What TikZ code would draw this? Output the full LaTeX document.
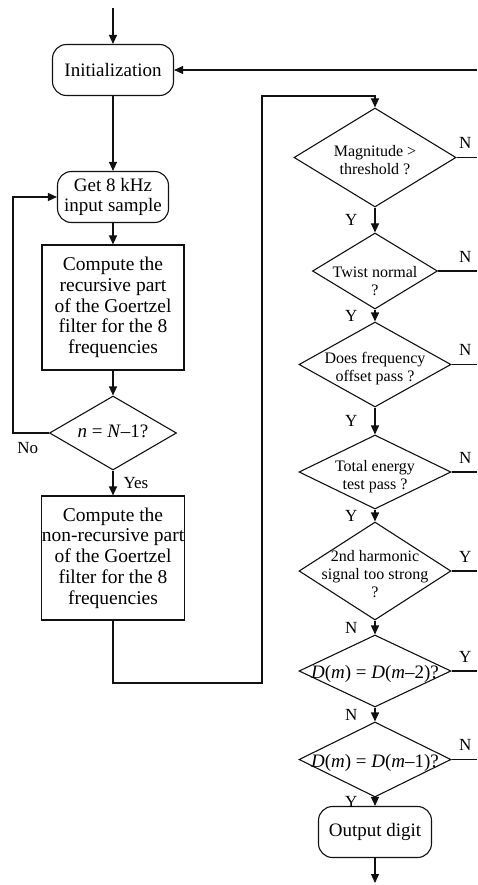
\documentclass[tikz,border=0pt]{standalone}
\usepackage{fontspec}
\setmainfont{Liberation Serif}
\usetikzlibrary{arrows.meta,positioning,shapes.geometric}
\definecolor{ink}{HTML}{111111}
% text of a decision, kept from growing the diamond
\newcommand{\dtext}[2][-9pt]{\makebox[0pt]{\raisebox{#1}[0pt][0pt]{\begin{tabular}{@{}c@{}}#2\end{tabular}}}}
\tikzset{
  term/.style={draw=ink,line width=1.1pt,rounded corners=14pt,inner sep=0pt,minimum height=51pt,align=center,font=\fontsize{19}{20.7}\selectfont},
  proc/.style={draw=ink,line width=1.1pt,inner sep=0pt,minimum width=142pt,minimum height=125pt,align=center,font=\fontsize{19.5}{20.7}\selectfont},
  decide/.style={diamond,draw=ink,line width=1.1pt,inner sep=0pt,font=\fontsize{16}{18}\selectfont},
  wire/.style={draw=ink,line width=1.1pt},
  flow/.style={wire,-{Triangle[length=9pt,width=8pt]}},
  lab/.style={inner sep=0pt,font=\fontsize{17}{17}\selectfont}
}
\begin{document}
\begin{tikzpicture}[x=1pt,y=-1pt]
  \useasboundingbox (0,0) rectangle (477,885);
  % left column
  \node[term,minimum width=121pt] (init) at (113,70) {Initialization};
  \node[term,minimum width=111pt] (get) at (113,197) {Get 8 kHz\\input sample};
  \node[proc] (rec) at (113,307.5) {Compute the\\recursive part\\of the Goertzel\\filter for the 8\\frequencies};
  \node[decide,minimum width=127pt,minimum height=74pt,font=\fontsize{19}{20}\selectfont] (last) at (113,433) {\dtext[-5pt]{\textit{n} = \textit{N}–1?}};
  \node[proc,minimum height=124pt] (nonrec) at (113,558) {Compute the\\non-recursive part\\of the Goertzel\\filter for the 8\\frequencies};
  % right column
  \node[decide,minimum width=162pt,minimum height=99pt] (mag) at (375,157.5) {\dtext{Magnitude >\\threshold ?}};
  \node[decide,minimum width=125pt,minimum height=76pt] (twist) at (375,271) {\dtext[-16pt]{Twist normal\\?}};
  \node[decide,minimum width=152pt,minimum height=85pt] (offs) at (375,364.5) {\dtext{Does frequency\\offset pass ?}};
  \node[decide,minimum width=152pt,minimum height=74pt] (energy) at (375,472) {\dtext{Total energy\\test pass ?}};
  \node[decide,minimum width=152pt,minimum height=98pt] (harm) at (375,571) {\dtext{2nd harmonic\\signal too strong\\?}};
  \node[decide,minimum width=152pt,minimum height=72pt,font=\fontsize{19}{20}\selectfont] (rep2) at (375,671) {\dtext[-8pt]{\textit{D}(\textit{m}) = \textit{D}(\textit{m}–2)?}};
  \node[decide,minimum width=152pt,minimum height=75pt,font=\fontsize{19}{20}\selectfont] (rep1) at (375,759.5) {\dtext[-8pt]{\textit{D}(\textit{m}) = \textit{D}(\textit{m}–1)?}};
  \node[term,minimum width=113pt] (out) at (375,832) {Output digit};
  \coordinate (start) at (113,8);
  \coordinate (back) at (477,70);
  \coordinate (loop) at (13,433);
  \coordinate (low) at (262,683);
  \coordinate (high) at (262,96);
  \coordinate (stop) at (375,883);
  % connectors
  \draw[flow] (start) -- (init);
  \draw[flow] (back) -- (init);
  \draw[flow] (init) -- (get);
  \draw[flow] (get) -- (rec);
  \draw[flow] (rec) -- (last);
  \draw[flow] (last) -- (nonrec) node[lab,midway,right=10pt]{Yes};
  \draw[flow] (last.west) -- node[lab,pos=0.59,below=9pt]{No} (loop) |- (get.west);
  \draw[flow] (nonrec) |- (low) -- (high) -| (mag);
  \foreach \a/\b/\t in {mag/twist/Y,twist/offs/Y,offs/energy/Y,energy/harm/Y,harm/rep2/N,rep2/rep1/N,rep1/out/Y}
    \draw[flow] (\a) -- (\b) node[lab,midway,left=17pt]{\t};
  \foreach \d/\t in {mag/N,twist/N,offs/N,energy/N,harm/Y,rep2/Y,rep1/N}
    \draw[wire] (\d.east) -- (\d.east -| back) node[lab,above left=8pt and 5pt]{\t};
  \draw[flow] (out) -- (stop);
\end{tikzpicture}
\end{document}
